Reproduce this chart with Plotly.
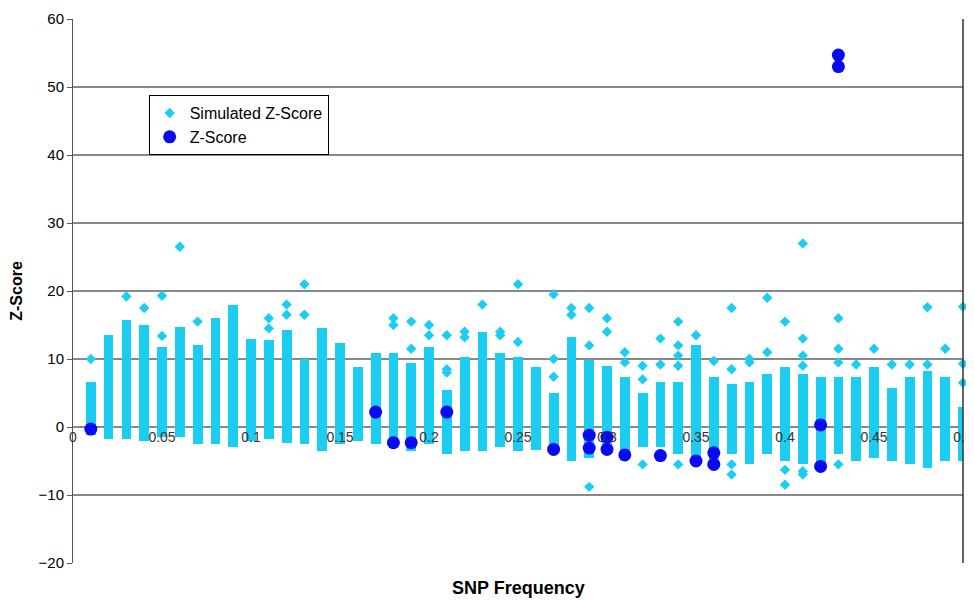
import plotly.graph_objects as go

# SNP frequency columns of the simulated z-scores
freq = [round(0.01 * i, 2) for i in range(1, 51)]
# dense range of each simulated column (low, high)
sim_low = [-1.2, -1.8, -1.8, -2, -1.5, -1.5, -2.5, -2.5, -3, -2,
           -1.8, -2.3, -2.5, -3.5, -2.5, -2, -2.5, -2.5, -3.5, -2.5,
           -4, -3.5, -3.5, -3, -3.5, -3.4, -3.5, -5, -4.5, -4,
           -4, -3, -3, -4, -4.5, -5, -4, -5.5, -4, -5,
           -5.5, -5.5, -4, -5, -4.5, -5, -5.5, -6, -5, -5]
sim_high = [6.6, 13.5, 15.7, 15, 11.8, 14.7, 12, 16, 18, 13,
            12.8, 14.3, 10, 14.5, 12.3, 8.8, 10.9, 10.9, 9.4, 11.8,
            5.4, 10.3, 13.9, 10.9, 10.3, 8.8, 5, 13.2, 9.8, 9,
            7.4, 5, 6.6, 6.6, 12, 7.4, 6.3, 6.6, 7.8, 8.8,
            7.8, 7.4, 7.4, 7.4, 8.8, 5.8, 7.4, 8.3, 7.4, 3]
# simulated values lying outside the dense ranges
out_x = [0.01, 0.03, 0.04, 0.05, 0.05, 0.06, 0.07, 0.11, 0.11, 0.12, 0.12,
         0.13, 0.13, 0.18, 0.18, 0.19, 0.19, 0.20, 0.20, 0.21, 0.21, 0.21,
         0.22, 0.22, 0.23, 0.24, 0.24, 0.25, 0.25, 0.27, 0.27, 0.27, 0.28, 0.28,
         0.29, 0.29, 0.29, 0.30, 0.30, 0.31, 0.31, 0.32, 0.32, 0.32, 0.33, 0.33,
         0.34, 0.34, 0.34, 0.34, 0.34, 0.35, 0.36, 0.37, 0.37, 0.37, 0.37,
         0.38, 0.38, 0.39, 0.39, 0.40, 0.40, 0.40, 0.41, 0.41, 0.41, 0.41,
         0.41, 0.41, 0.43, 0.43, 0.43, 0.43, 0.44, 0.45, 0.46, 0.47, 0.48,
         0.48, 0.49, 0.50, 0.50, 0.50]
out_y = [10, 19.2, 17.5, 13.4, 19.3, 26.5, 15.5, 16, 14.5, 16.5, 18,
         16.5, 21, 15, 16, 11.5, 15.5, 13.5, 15, 8, 8.5, 13.5,
         13.2, 14, 18, 13.5, 14, 12.5, 21, 7.4, 10, 19.5, 16.5, 17.5,
         12, 17.5, -8.8, 14, 16, 9.5, 11, 7, 9, -5.5, 9.2, 13,
         9, 10.5, 12, 15.5, -5.5, 13.5, 9.7, 8.5, 17.5, -5.5, -7,
         9.5, 10, 11, 19, 15.5, -6.3, -8.5, 9, 10.5, 13, 27,
         -6.5, -7, 9.5, 11.5, 16, -5.5, 9.2, 11.5, 9.2, 9.2, 9.2,
         17.6, 11.5, 6.5, 9.3, 17.7]
# observed z-scores
z_x = [0.01, 0.17, 0.18, 0.19, 0.21, 0.27, 0.29, 0.29, 0.30, 0.30,
       0.31, 0.33, 0.35, 0.36, 0.36, 0.42, 0.42, 0.43, 0.43]
z_y = [-0.3, 2.2, -2.3, -2.3, 2.2, -3.3, -1.2, -3.1, -1.5, -3.3,
       -4.1, -4.2, -5, -3.8, -5.5, 0.3, -5.8, 54.7, 53]

cyan = '#1ccdf2'
fig = go.Figure()
fig.add_trace(go.Bar(x=freq, base=sim_low, y=[h - l for h, l in zip(sim_high, sim_low)],
                     width=0.0055, marker=dict(color=cyan, line=dict(width=0)),
                     showlegend=False, hoverinfo='skip', cliponaxis=False))
fig.add_trace(go.Scatter(x=out_x, y=out_y, mode='markers', name='Simulated Z-Score',
                         marker=dict(symbol='diamond', size=8, color=cyan), cliponaxis=False))
fig.add_trace(go.Scatter(x=z_x, y=z_y, mode='markers', name='Z-Score',
                         marker=dict(symbol='circle', size=13, color='#0a0af0')))

# page has an 8px body margin, so the plot area is placed 8px up/left of the target
fig.update_layout(
    width=974, height=600,
    margin=dict(l=65, r=19, t=11, b=45, autoexpand=False),
    paper_bgcolor='white', plot_bgcolor='white',
    font=dict(family='Liberation Sans, Arial', size=14, color='black'),
    bargap=0,
    legend=dict(x=0.085, y=0.86, xanchor='left', yanchor='top',
                bordercolor='black', borderwidth=1, bgcolor='white',
                font=dict(size=16), tracegroupgap=2),
    xaxis=dict(range=[0, 0.5], dtick=0.05, tick0=0, anchor='free', position=0.25,
               showgrid=False, showline=False, ticks='', zeroline=False, automargin=False,
               tickformat='.3~g', tickfont=dict(size=14, color='#333333')),
    yaxis=dict(range=[-20, 60], dtick=10, showgrid=True, gridcolor='#888888',
               gridwidth=1.5, zeroline=False, showline=True, linecolor='#555555',
               ticks='outside', ticklen=5, tickcolor='#555555', automargin=False,
               tickfont=dict(size=15),
               title=dict(text='<b>Z-Score</b>', font=dict(size=16), standoff=12)),
    annotations=[dict(text='<b>SNP Frequency</b>', x=0.5, y=-0.046, xref='paper', yref='paper',
                      yanchor='middle', showarrow=False, font=dict(size=18))],
    shapes=[dict(type='line', xref='paper', yref='paper', x0=1, x1=1, y0=0, y1=1,
                 line=dict(color='#333333', width=1.5)),
            dict(type='line', xref='paper', yref='y', x0=0, x1=1, y0=0, y1=0,
                 line=dict(color='#888888', width=1.5), layer='below')],
)
fig.write_html('out.html')
